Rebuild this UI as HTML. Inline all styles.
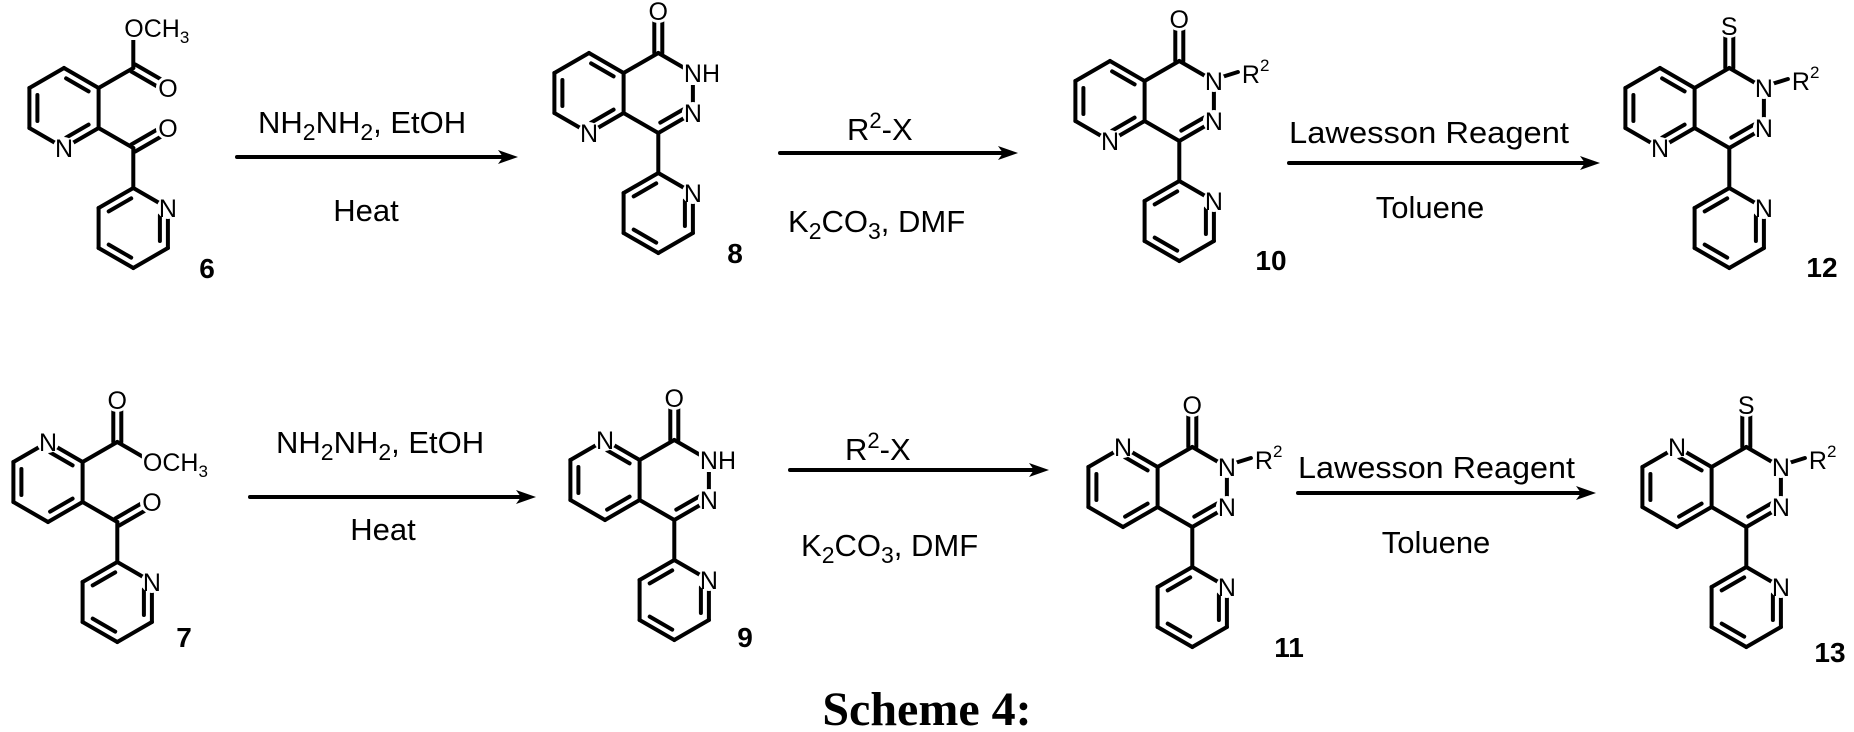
<!DOCTYPE html>
<html><head><meta charset="utf-8"><style>
html,body{margin:0;padding:0;background:#fff;}
svg{display:block;}
text{font-family:"Liberation Sans",Arial,sans-serif;fill:#000;}
.lab{font-size:25px;text-anchor:middle;}
.rg{font-size:31px;}
.num{font-size:28px;font-weight:bold;text-anchor:middle;}
</style></head><body>
<svg id="s" width="1854" height="732" viewBox="0 0 1854 732" xmlns="http://www.w3.org/2000/svg">
<rect width="1854" height="732" fill="#fff"/>
<g id="bonds" stroke="#000" stroke-width="4" stroke-linecap="round" fill="none"></g>
<g id="bg" fill="#fff"></g>
<g id="txt">
<!-- reagents row 1 -->
<text class="rg" x="258" y="133">NH<tspan font-size="23" dy="7">2</tspan><tspan dy="-7">NH</tspan><tspan font-size="23" dy="7">2</tspan><tspan dy="-7">, EtOH</tspan></text>
<text class="rg" x="366" y="221" text-anchor="middle">Heat</text>
<text class="rg" x="847" y="140">R<tspan font-size="22" dy="-12">2</tspan><tspan dy="12">-X</tspan></text>
<text class="rg" x="788" y="232">K<tspan font-size="23" dy="7">2</tspan><tspan dy="-7">CO</tspan><tspan font-size="23" dy="7">3</tspan><tspan dy="-7">, DMF</tspan></text>
<text class="rg" x="1289" y="143" textLength="280" lengthAdjust="spacingAndGlyphs">Lawesson Reagent</text>
<text class="rg" x="1430" y="218" text-anchor="middle">Toluene</text>
<!-- reagents row 2 -->
<text class="rg" x="276" y="453">NH<tspan font-size="23" dy="7">2</tspan><tspan dy="-7">NH</tspan><tspan font-size="23" dy="7">2</tspan><tspan dy="-7">, EtOH</tspan></text>
<text class="rg" x="383" y="540" text-anchor="middle">Heat</text>
<text class="rg" x="845" y="460">R<tspan font-size="22" dy="-12">2</tspan><tspan dy="12">-X</tspan></text>
<text class="rg" x="801" y="556">K<tspan font-size="23" dy="7">2</tspan><tspan dy="-7">CO</tspan><tspan font-size="23" dy="7">3</tspan><tspan dy="-7">, DMF</tspan></text>
<text class="rg" x="1298" y="478" textLength="277" lengthAdjust="spacingAndGlyphs">Lawesson Reagent</text>
<text class="rg" x="1436" y="553" text-anchor="middle">Toluene</text>
<!-- numbers -->
<text class="num" x="207" y="278">6</text>
<text class="num" x="735" y="263">8</text>
<text class="num" x="1271" y="270">10</text>
<text class="num" x="1822" y="277">12</text>
<text class="num" x="184" y="647">7</text>
<text class="num" x="745" y="647">9</text>
<text class="num" x="1289" y="657">11</text>
<text class="num" x="1830" y="662">13</text>
<text x="927" y="725" text-anchor="middle" style="font-family:'Liberation Serif',serif;font-weight:bold;font-size:48px;">Scheme 4:</text>
</g>
<g id="labs"></g>
</svg>
<script>
const B=[],G=[],T=[];
function ln(a,b){B.push(`<line x1="${a[0].toFixed(1)}" y1="${a[1].toFixed(1)}" x2="${b[0].toFixed(1)}" y2="${b[1].toFixed(1)}"/>`);}
function hex(cx,cy){const h=34.64;return [[cx,cy-40],[cx+h,cy-20],[cx+h,cy+20],[cx,cy+40],[cx-h,cy+20],[cx-h,cy-20]];}
function inner(a,b,c){ // inner double line toward center c
  const mx=(a[0]+b[0])/2,my=(a[1]+b[1])/2;let dx=c[0]-mx,dy=c[1]-my;const d=Math.hypot(dx,dy);dx/=d;dy/=d;
  const o=8;let ux=b[0]-a[0],uy=b[1]-a[1];const l=Math.hypot(ux,uy);ux/=l;uy/=l;const s=7;
  ln([a[0]+dx*o+ux*s,a[1]+dy*o+uy*s],[b[0]+dx*o-ux*s,b[1]+dy*o-uy*s]);}
function ext(a,b){let ux=b[0]-a[0],uy=b[1]-a[1];const l=Math.hypot(ux,uy);ux/=l;uy/=l;const px=-uy*4,py=ux*4;
  ln([a[0]+px,a[1]+py],[b[0]+px,b[1]+py]);ln([a[0]-px,a[1]-py],[b[0]-px,b[1]-py]);}
function lab(x,y,t,r){G.push(`<circle cx="${x}" cy="${y}" r="${r||11}"/>`);T.push(`<text class="lab" x="${x}" y="${y+9}">${t}</text>`);}
function labStart(x,y,html,w){G.push(`<rect x="${x-10}" y="${y-12}" width="${w}" height="24"/>`);T.push(`<text style="font-size:25px" x="${x-9}" y="${y+9}">${html}</text>`);}
function ring(h,dbls){for(let i=0;i<6;i++)ln(h[i],h[(i+1)%6]);const c=[(h[0][0]+h[3][0])/2,(h[0][1]+h[3][1])/2];dbls.forEach(p=>inner(h[p[0]],h[p[1]],c));}
function pyridyl(cx,cy){const h=hex(cx,cy);ring(h,[[5,0],[1,2],[4,3]]);lab(h[1][0],h[1][1],"N");}
function R2(x,y){ln([x+8,y-4],[x+24,y-9]);G.push(`<circle cx="${x+24}" cy="${y-9}" r="0"/>`);
  T.push(`<text style="font-size:25px" x="${x+28}" y="${y+2}">R<tspan font-size="17" dy="-12">2</tspan></text>`);}
function bic(cx,cy,nTop,kind){
  const L=hex(cx,cy),R=hex(cx+69.28,cy);
  ring(L,[[0,1],[5,4],[2,3]]);
  ln(R[0],R[1]);ln(R[1],R[2]);ln(R[2],R[3]);ln(R[3],R[4]);ln(R[5],R[0]);
  const c=[R[0][0],cy];inner(R[2],R[3],c);
  const top=[R[0][0],R[0][1]-40];ext(R[0],top);
  lab(top[0],top[1]-2,kind=="S"?"S":"O",12);
  if(nTop)lab(L[0][0],L[0][1],"N");else lab(L[3][0],L[3][1],"N");
  if(kind=="H"){labStart(R[1][0],R[1][1],"NH",34);}
  else{lab(R[1][0],R[1][1],"N");R2(R[1][0],R[1][1]);}
  lab(R[2][0],R[2][1],"N");
  ln(R[3],[R[3][0],R[3][1]+40]);pyridyl(R[3][0],R[3][1]+80);
}
function ketoEster(cx,cy,nTop){
  const A=hex(cx,cy);ring(A,[[0,1],[5,4],[2,3]]);
  if(nTop)lab(A[0][0],A[0][1],"N");else lab(A[3][0],A[3][1],"N");
  const c1=[A[1][0]+34.64,A[1][1]-20];ln(A[1],c1);
  const c2=[A[2][0]+34.64,A[2][1]+20];ln(A[2],c2);
  const o2=[c2[0]+34.64,c2[1]-20];ext(c2,o2);lab(o2[0],o2[1],"O",12);
  ln(c2,[c2[0],c2[1]+40]);pyridyl(c2[0],c2[1]+80);
  const OC='O<tspan>CH</tspan><tspan font-size="17" dy="6">3</tspan>';
  if(!nTop){const up=[c1[0],c1[1]-32];ln(c1,up);labStart(c1[0],c1[1]-40,OC,64);
    const o1=[c1[0]+34.64,c1[1]+20];ext(c1,o1);lab(o1[0],o1[1],"O",12);}
  else{const up=[c1[0],c1[1]-40];ext(c1,up);lab(up[0],up[1]-2,"O",12);
    const o1=[c1[0]+34.64,c1[1]+20];ln(c1,o1);labStart(o1[0],o1[1],OC,64);}
}
function arrow(x1,x2,y){ln([x1,y],[x2-10,y]);B.push(`<polygon points="${x2},${y} ${x2-20},${y-7} ${x2-15},${y} ${x2-20},${y+7}" fill="#000" stroke="none"/>`);}
ketoEster(64,108,false);
ketoEster(48,482,true);
bic(589,93,false,"H");
bic(605,480,true,"H");
bic(1110,101,false,"O");
bic(1123,487,true,"O");
bic(1660,108,false,"S");
bic(1677,487,true,"S");
arrow(237,518,157);arrow(780,1018,153);arrow(1289,1600,163);
arrow(250,536,497);arrow(790,1049,470);arrow(1298,1596,493);
document.getElementById('bonds').innerHTML=B.join('');
document.getElementById('bg').innerHTML=G.join('');
document.getElementById('labs').innerHTML=T.join('');
</script>
</body></html>
